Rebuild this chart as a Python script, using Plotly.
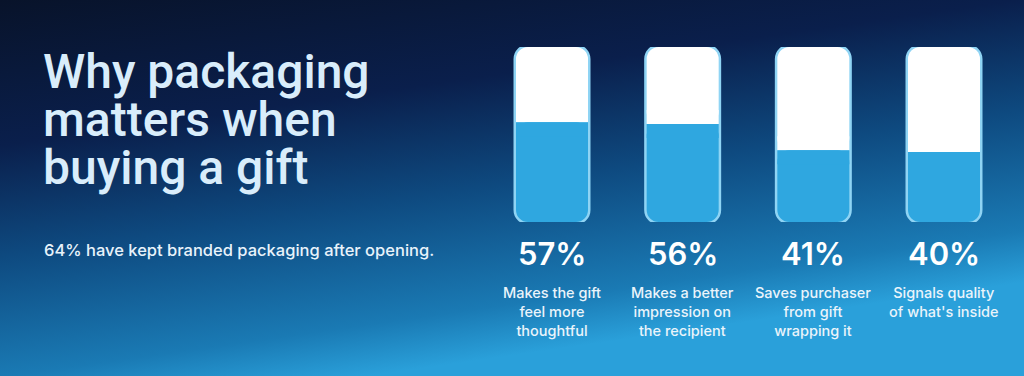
import base64
import plotly.graph_objects as go

# ---- data ----
values = [57, 56, 41, 40]
pct_labels = ["57%", "56%", "41%", "40%"]
categories = [
    "Makes the gift<br>feel more<br>thoughtful",
    "Makes a better<br>impression on<br>the recipient",
    "Saves purchaser<br>from gift<br>wrapping it",
    "Signals quality<br>of what's inside",
]
title_lines = ["Why packaging", "matters when", "buying a gift"]
subtitle = "64% have kept branded packaging after opening."

W, H = 1024, 376
FONT = "Inter"
TITLE_FONT = "Roboto"

# ---- background gradient (svg data uri) ----
svg = f"""<svg xmlns='http://www.w3.org/2000/svg' width='{W}' height='{H}' viewBox='0 0 {W} {H}' preserveAspectRatio='none'>
<defs>
<linearGradient id='g' gradientUnits='userSpaceOnUse' x1='0' y1='0' x2='60' y2='420'>
<stop offset='0' stop-color='#08132a'/>
<stop offset='0.34' stop-color='#0a1f4c'/>
<stop offset='0.60' stop-color='#0e4a80'/>
<stop offset='0.88' stop-color='#1a7ab4'/>
<stop offset='1' stop-color='#2aa0da'/>
</linearGradient>
</defs>
<rect x='0' y='0' width='{W}' height='{H}' fill='url(#g)'/>
</svg>"""
bg_src = "data:image/svg+xml;base64," + base64.b64encode(svg.encode()).decode()

n = len(values)
x = list(range(n))
BAR_W = 0.551
RADIUS = 12
PATCH = 8  # data units used to square off the inner ends of the fill segments
OUTLINE = "#8fd4f4"
FILL = "#2fa7e0"


def bar(y, base, color, radius, line=None):
    return go.Bar(x=x, y=y, base=base, width=BAR_W,
                  marker=dict(color=color, line=line or dict(width=0), cornerradius=radius),
                  cliponaxis=False, hoverinfo="skip")


fig = go.Figure()
# outline (full 0-100 capsule; the stroke's outer half stays visible)
fig.add_trace(bar([100] * n, [0] * n, OUTLINE, RADIUS, dict(color=OUTLINE, width=5)))
# white remainder (value -> 100) with squared bottom
fig.add_trace(bar([100 - v for v in values], values, "#ffffff", RADIUS))
fig.add_trace(bar([PATCH] * n, values, "#ffffff", 0))
# blue fill (value -> 0) with squared top
fig.add_trace(bar([-v for v in values], values, FILL, RADIUS))
fig.add_trace(bar([-PATCH] * n, values, FILL, 0))

annotations = []
# title lines
title_mid = [71.5, 119.5, 167.5]
for line, ym in zip(title_lines, title_mid):
    annotations.append(dict(text=line, xref="paper", yref="paper", x=41 / W, y=1 - ym / H,
                            xanchor="left", yanchor="middle", showarrow=False,
                            font=dict(family=TITLE_FONT, size=48, color="#d9edfb", weight=500)))
annotations.append(dict(text=subtitle, xref="paper", yref="paper", x=42 / W, y=1 - 250 / H,
                        xanchor="left", yanchor="middle", showarrow=False,
                        font=dict(family=FONT, size=16.5, color="#e8f3fb", weight=500)))
for xi, p, c in zip(x, pct_labels, categories):
    annotations.append(dict(text=p, xref="x", yref="paper", x=xi, y=1 - 253 / H,
                            xanchor="center", yanchor="middle", showarrow=False,
                            font=dict(family=FONT, size=31, color="#ffffff", weight=600)))
    annotations.append(dict(text=c, xref="x", yref="paper", x=xi, y=1 - 282 / H,
                            xanchor="center", yanchor="top", showarrow=False, align="center",
                            font=dict(family=FONT, size=14.5, color="#eaf4fb", weight=500)))

x0, x1 = (552 - 65.33) / W, (944 + 65.33) / W
fig.update_layout(
    width=W, height=H, margin=dict(l=0, r=0, t=0, b=0),
    paper_bgcolor="#0e4a80", plot_bgcolor="rgba(0,0,0,0)",
    barmode="overlay", showlegend=False,
    xaxis=dict(range=[-0.5, 3.5], domain=[x0, x1], visible=False, fixedrange=True),
    yaxis=dict(range=[0, 100], domain=[(H - 222) / H, (H - 47) / H], visible=False, fixedrange=True),
    images=[dict(source=bg_src, xref="paper", yref="paper", x=0, y=1, sizex=1, sizey=1,
                 sizing="stretch", layer="below", xanchor="left", yanchor="top")],
    annotations=annotations,
)

fig.write_html("out.html", config={"displayModeBar": False})
